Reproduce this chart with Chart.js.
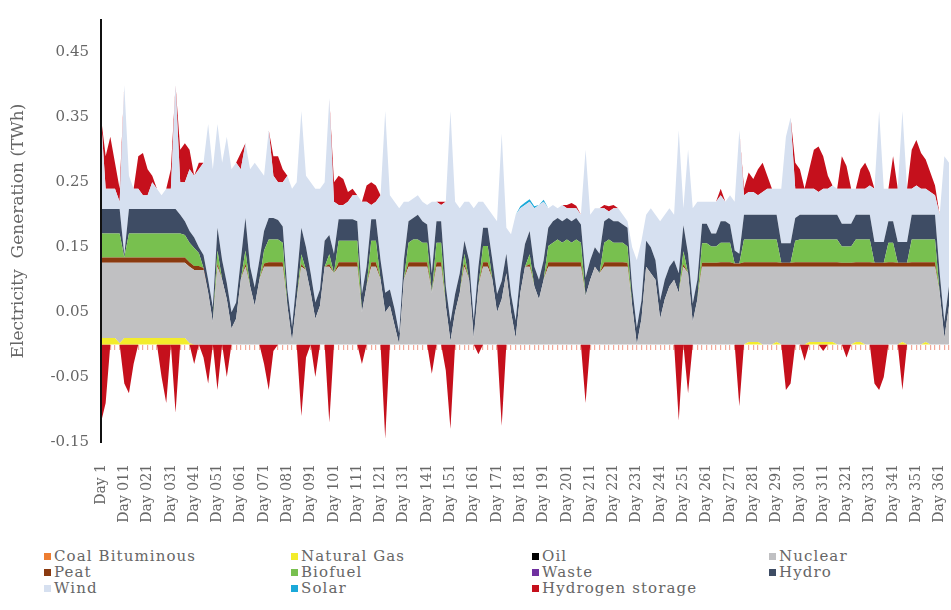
<!DOCTYPE html>
<html>
<head>
<meta charset="utf-8">
<title>Electricity generation</title>
<script src="https://cdn.jsdelivr.net/npm/chart.js@4.4.1/dist/chart.umd.min.js"></script>
<style>
  body { margin: 0; background: #fff; }
  #wrap { position: relative; width: 951px; height: 610px; }
  #chart-box { position: absolute; left: 0; top: 0; width: 951px; height: 540px; }
  #legend {
    position: absolute; left: 44px; top: 548px;
    display: grid; grid-template-columns: 247px 241px 237px auto;
    font: 15px 'DejaVu Serif'; color: #666666; line-height: 16px; letter-spacing: 1.1px;
  }
  #legend .item { white-space: nowrap; }
  #legend .swatch { display: inline-block; width: 7px; height: 7px; margin-right: 3px; vertical-align: 1px; }
</style>
</head>
<body>
<div id="wrap">
  <div id="chart-box"><canvas id="gen-chart"></canvas></div>
  <div id="legend"></div>
</div>
<script>
// one point every second day
const days = [
  1, 3, 5, 7, 9, 11, 13, 15, 17, 19, 21, 23, 25, 27, 29, 31, 33, 35, 37, 39,
  41, 43, 45, 47, 49, 51, 53, 55, 57, 59, 61, 63, 65, 67, 69, 71, 73, 75, 77, 79,
  81, 83, 85, 87, 89, 91, 93, 95, 97, 99, 101, 103, 105, 107, 109, 111, 113, 115, 117, 119,
  121, 123, 125, 127, 129, 131, 133, 135, 137, 139, 141, 143, 145, 147, 149, 151, 153, 155, 157, 159,
  161, 163, 165, 167, 169, 171, 173, 175, 177, 179, 181, 183, 185, 187, 189, 191, 193, 195, 197, 199,
  201, 203, 205, 207, 209, 211, 213, 215, 217, 219, 221, 223, 225, 227, 229, 231, 233, 235, 237, 239,
  241, 243, 245, 247, 249, 251, 253, 255, 257, 259, 261, 263, 265, 267, 269, 271, 273, 275, 277, 279,
  281, 283, 285, 287, 289, 291, 293, 295, 297, 299, 301, 303, 305, 307, 309, 311, 313, 315, 317, 319,
  321, 323, 325, 327, 329, 331, 333, 335, 337, 339, 341, 343, 345, 347, 349, 351, 353, 355, 357, 359,
  361, 363, 365
];

const tickLabels = [
  'Day 1', 'Day 011', 'Day 021', 'Day 031', 'Day 041', 'Day 051', 'Day 061', 'Day 071', 'Day 081', 'Day 091',
  'Day 101', 'Day 111', 'Day 121', 'Day 131', 'Day 141', 'Day 151', 'Day 161', 'Day 171', 'Day 181', 'Day 191',
  'Day 201', 'Day 211', 'Day 221', 'Day 231', 'Day 241', 'Day 251', 'Day 261', 'Day 271', 'Day 281', 'Day 291',
  'Day 301', 'Day 311', 'Day 321', 'Day 331', 'Day 341', 'Day 351', 'Day 361'
];

const yTicks = [-0.15, -0.05, 0.05, 0.15, 0.25, 0.35, 0.45];

// not visible in the figure
const coalValues = [];
const oilValues = [];
const wasteValues = [];

const natGasValues = [
  0.01, 0.01, 0.01, 0.01, 0.002, 0.01, 0.01, 0.01, 0.01, 0.01,
  0.01, 0.01, 0.01, 0.01, 0.01, 0.01, 0.01, 0.01, 0.01, 0.002,
  0, 0, 0, 0, 0, 0, 0, 0, 0, 0,
  0, 0, 0, 0, 0, 0, 0, 0, 0, 0,
  0, 0, 0, 0, 0, 0, 0, 0, 0, 0,
  0, 0, 0, 0, 0, 0, 0, 0, 0, 0,
  0, 0, 0, 0, 0, 0, 0, 0, 0, 0,
  0, 0, 0, 0, 0, 0, 0, 0, 0, 0,
  0, 0, 0, 0, 0, 0, 0, 0, 0, 0,
  0, 0, 0, 0, 0, 0, 0, 0, 0, 0,
  0, 0, 0, 0, 0, 0, 0, 0, 0, 0,
  0, 0, 0, 0, 0, 0, 0, 0, 0, 0,
  0, 0, 0, 0, 0, 0, 0, 0, 0, 0,
  0, 0, 0, 0, 0, 0, 0, 0, 0, 0.004,
  0.004, 0.004, 0, 0, 0, 0.004, 0, 0, 0, 0,
  0, 0, 0.004, 0.004, 0.004, 0.004, 0.004, 0.004, 0, 0,
  0, 0, 0.004, 0.004, 0, 0, 0, 0, 0, 0,
  0, 0, 0.004, 0, 0, 0, 0, 0.004, 0, 0,
  0, 0, 0
];

const nuclearValues = [
  0.116, 0.116, 0.116, 0.116, 0.124, 0.116, 0.116, 0.116, 0.116, 0.116,
  0.116, 0.116, 0.116, 0.116, 0.116, 0.116, 0.116, 0.116, 0.116, 0.118,
  0.115, 0.115, 0.115, 0.08, 0.035, 0.12, 0.1, 0.07, 0.025, 0.04,
  0.1, 0.12, 0.09, 0.06, 0.1, 0.12, 0.12, 0.12, 0.12, 0.12,
  0.06, 0.005, 0.07, 0.12, 0.115, 0.08, 0.04, 0.06, 0.12, 0.12,
  0.11, 0.12, 0.12, 0.12, 0.12, 0.12, 0.05, 0.09, 0.12, 0.12,
  0.1, 0.05, 0.06, 0.03, 0, 0.1, 0.12, 0.12, 0.12, 0.12,
  0.12, 0.08, 0.12, 0.12, 0.06, 0.005, 0.05, 0.08, 0.12, 0.1,
  0.01, 0.09, 0.12, 0.12, 0.1, 0.05, 0.07, 0.11, 0.05, 0.01,
  0.08, 0.12, 0.12, 0.09, 0.07, 0.1, 0.12, 0.12, 0.12, 0.12,
  0.12, 0.12, 0.12, 0.12, 0.075, 0.1, 0.12, 0.11, 0.12, 0.12,
  0.12, 0.12, 0.12, 0.12, 0.06, 0, 0.04, 0.12, 0.11, 0.1,
  0.04, 0.07, 0.09, 0.1, 0.08, 0.12, 0.11, 0.035, 0.07, 0.12,
  0.12, 0.12, 0.12, 0.12, 0.12, 0.12, 0.12, 0.12, 0.12, 0.116,
  0.116, 0.116, 0.12, 0.12, 0.12, 0.116, 0.12, 0.12, 0.12, 0.12,
  0.12, 0.12, 0.116, 0.116, 0.116, 0.116, 0.116, 0.116, 0.12, 0.12,
  0.12, 0.12, 0.116, 0.116, 0.12, 0.12, 0.12, 0.12, 0.12, 0.12,
  0.12, 0.12, 0.116, 0.12, 0.12, 0.12, 0.12, 0.116, 0.12, 0.12,
  0.08, 0.01, 0.06
];

const peatValues = [
  0.008, 0.008, 0.008, 0.008, 0.008, 0.008, 0.008, 0.008, 0.008, 0.008,
  0.008, 0.008, 0.008, 0.008, 0.008, 0.008, 0.008, 0.008, 0.008, 0.007,
  0.006, 0.006, 0.003, 0, 0, 0.005, 0, 0, 0, 0,
  0, 0.005, 0, 0, 0, 0.005, 0.007, 0.007, 0.007, 0.007,
  0, 0, 0, 0.004, 0, 0, 0, 0, 0, 0.004,
  0, 0.007, 0.007, 0.007, 0.007, 0.007, 0, 0, 0.007, 0.007,
  0, 0, 0, 0, 0, 0, 0.007, 0.007, 0.007, 0.007,
  0.007, 0, 0.007, 0.007, 0, 0, 0, 0, 0.005, 0,
  0, 0, 0.007, 0.007, 0, 0, 0, 0, 0, 0,
  0, 0, 0.004, 0, 0, 0, 0.007, 0.007, 0.007, 0.007,
  0.007, 0.007, 0.007, 0.007, 0, 0, 0, 0, 0.007, 0.007,
  0.007, 0.007, 0.007, 0.006, 0, 0, 0, 0, 0, 0,
  0, 0, 0, 0, 0, 0.004, 0, 0, 0, 0.006,
  0.006, 0.006, 0.006, 0.007, 0.007, 0.007, 0.005, 0.005, 0.007, 0.007,
  0.007, 0.007, 0.007, 0.007, 0.007, 0.007, 0.006, 0.006, 0.006, 0.007,
  0.007, 0.007, 0.007, 0.007, 0.007, 0.007, 0.007, 0.007, 0.007, 0.006,
  0.006, 0.006, 0.007, 0.007, 0.007, 0.007, 0.006, 0.006, 0.006, 0.007,
  0.007, 0.006, 0.006, 0.006, 0.007, 0.007, 0.007, 0.007, 0.007, 0.007,
  0, 0, 0
];

const biofuelValues = [
  0.037, 0.037, 0.037, 0.037, 0.037, 0, 0.037, 0.037, 0.037, 0.037,
  0.037, 0.037, 0.037, 0.037, 0.037, 0.037, 0.037, 0.037, 0.035, 0.03,
  0.028, 0.02, 0, 0, 0, 0.02, 0, 0, 0, 0,
  0, 0.02, 0, 0, 0, 0.02, 0.035, 0.035, 0.035, 0.03,
  0, 0, 0, 0.015, 0, 0, 0, 0, 0, 0.015,
  0, 0.033, 0.033, 0.033, 0.033, 0.033, 0, 0, 0.033, 0.033,
  0, 0, 0, 0, 0, 0, 0.03, 0.035, 0.035, 0.03,
  0.03, 0, 0.03, 0.03, 0, 0, 0, 0, 0.015, 0,
  0, 0, 0.025, 0.025, 0, 0, 0, 0, 0, 0,
  0, 0, 0.015, 0, 0, 0, 0.025, 0.03, 0.035, 0.03,
  0.035, 0.03, 0.035, 0.03, 0, 0, 0, 0, 0.03, 0.035,
  0.03, 0.03, 0.03, 0.025, 0, 0, 0, 0, 0, 0,
  0, 0, 0, 0, 0, 0.02, 0, 0, 0, 0.03,
  0.03, 0.025, 0.025, 0.03, 0.03, 0.03, 0, 0, 0.035, 0.035,
  0.035, 0.035, 0.035, 0.035, 0.035, 0.035, 0, 0, 0, 0.033,
  0.035, 0.035, 0.035, 0.035, 0.035, 0.035, 0.035, 0.035, 0.035, 0.025,
  0.025, 0.025, 0.035, 0.035, 0.035, 0.035, 0, 0, 0, 0.03,
  0.03, 0, 0, 0, 0.035, 0.035, 0.035, 0.035, 0.035, 0.035,
  0, 0, 0
];

const hydroValues = [
  0.038, 0.038, 0.038, 0.038, 0.038, 0.004, 0.038, 0.038, 0.038, 0.038,
  0.038, 0.038, 0.038, 0.038, 0.038, 0.038, 0.038, 0.029, 0.021, 0.018,
  0.016, 0.009, 0.02, 0.02, 0.022, 0.035, 0.03, 0.025, 0.025, 0.025,
  0.03, 0.05, 0.03, 0.028, 0.03, 0.03, 0.033, 0.033, 0.03, 0.025,
  0.025, 0.022, 0.03, 0.041, 0.035, 0.03, 0.025, 0.025, 0.04, 0.03,
  0.03, 0.033, 0.033, 0.033, 0.033, 0.03, 0.028, 0.03, 0.033, 0.033,
  0.03, 0.03, 0.025, 0.025, 0.017, 0.03, 0.033, 0.033, 0.038, 0.033,
  0.028, 0.03, 0.033, 0.033, 0.03, 0.03, 0.028, 0.03, 0.02, 0.03,
  0.027, 0.03, 0.028, 0.028, 0.03, 0.028, 0.028, 0.03, 0.027, 0.027,
  0.03, 0.035, 0.036, 0.03, 0.03, 0.03, 0.028, 0.033, 0.033, 0.033,
  0.033, 0.033, 0.033, 0.028, 0.028, 0.03, 0.03, 0.03, 0.033, 0.033,
  0.033, 0.033, 0.028, 0.029, 0.028, 0.026, 0.028, 0.04, 0.04, 0.03,
  0.028, 0.03, 0.03, 0.03, 0.03, 0.04, 0.03, 0.028, 0.03, 0.03,
  0.03, 0.02, 0.02, 0.033, 0.033, 0.028, 0.02, 0.015, 0.038, 0.038,
  0.038, 0.038, 0.038, 0.038, 0.038, 0.038, 0.03, 0.03, 0.03, 0.035,
  0.038, 0.038, 0.038, 0.038, 0.038, 0.038, 0.038, 0.038, 0.038, 0.035,
  0.035, 0.035, 0.038, 0.038, 0.038, 0.038, 0.032, 0.032, 0.032, 0.033,
  0.033, 0.032, 0.032, 0.032, 0.038, 0.038, 0.038, 0.038, 0.038, 0.038,
  0.03, 0.025, 0.03
];

const windValues = [
  0.141, 0.031, 0.031, 0.031, 0.011, 0.262, 0.051, 0.031, 0.031, 0.021,
  0.021, 0.041, 0.031, 0.021, 0.031, 0.031, 0.191, 0.05, 0.06, 0.095,
  0.095, 0.12, 0.142, 0.24, 0.213, 0.16, 0.15, 0.225, 0.22, 0.215,
  0.14, 0.115, 0.15, 0.192, 0.14, 0.085, 0.135, 0.065, 0.058, 0.068,
  0.175, 0.213, 0.15, 0.18, 0.11, 0.14, 0.175, 0.155, 0.09, 0.211,
  0.08, 0.022, 0.022, 0.027, 0.037, 0.04, 0.142, 0.1, 0.022, 0.027,
  0.1, 0.28, 0.145, 0.165, 0.193, 0.09, 0.03, 0.03, 0.03, 0.03,
  0.03, 0.11, 0.03, 0.025, 0.13, 0.325, 0.142, 0.1, 0.06, 0.09,
  0.173, 0.1, 0.04, 0.03, 0.07, 0.112, 0.227, 0.04, 0.093, 0.163,
  0.1, 0.06, 0.045, 0.09, 0.115, 0.09, 0.03, 0.025, 0.015, 0.025,
  0.015, 0.02, 0.015, 0.015, 0.197, 0.07, 0.06, 0.07, 0.02, 0.01,
  0.02, 0.02, 0.015, 0.01, 0.062, 0.104, 0.092, 0.04, 0.06, 0.07,
  0.122, 0.1, 0.09, 0.07, 0.22, 0.026, 0.16, 0.147, 0.12, 0.034,
  0.034, 0.049, 0.049, 0.04, 0.03, 0.045, 0.075, 0.19, 0.03, 0.035,
  0.035, 0.03, 0.035, 0.04, 0.04, 0.04, 0.084, 0.164, 0.194, 0.045,
  0.04, 0.04, 0.04, 0.04, 0.035, 0.04, 0.04, 0.045, 0.04, 0.054,
  0.054, 0.054, 0.04, 0.04, 0.04, 0.045, 0.082, 0.202, 0.082, 0.05,
  0.05, 0.082, 0.202, 0.082, 0.04, 0.045, 0.04, 0.04, 0.035, 0.03,
  0.09, 0.255, 0.19
];

const solarValues = [
  0, 0, 0, 0, 0, 0, 0, 0, 0, 0,
  0, 0, 0, 0, 0, 0, 0, 0, 0, 0,
  0, 0, 0, 0, 0, 0, 0, 0, 0, 0,
  0, 0, 0, 0, 0, 0, 0, 0, 0, 0,
  0, 0, 0, 0, 0, 0, 0, 0, 0, 0,
  0, 0, 0, 0, 0, 0, 0, 0, 0, 0,
  0, 0, 0, 0, 0, 0, 0, 0, 0, 0,
  0, 0, 0, 0, 0, 0, 0, 0, 0, 0,
  0, 0, 0, 0, 0, 0, 0, 0, 0, 0,
  0.003, 0.004, 0.004, 0.003, 0, 0.003, 0, 0, 0, 0,
  0, 0, 0, 0, 0, 0, 0, 0, 0, 0,
  0, 0, 0, 0, 0, 0, 0, 0, 0, 0,
  0, 0, 0, 0, 0, 0, 0, 0, 0, 0,
  0, 0, 0, 0, 0, 0, 0, 0, 0, 0,
  0, 0, 0, 0, 0, 0, 0, 0, 0, 0,
  0, 0, 0, 0, 0, 0, 0, 0, 0, 0,
  0, 0, 0, 0, 0, 0, 0, 0, 0, 0,
  0, 0, 0, 0, 0, 0, 0, 0, 0, 0,
  0, 0, 0
];

// hydrogen storage: discharge (above the stack) and charge (below zero)
const h2DischargeValues = [
  0, 0.05, 0.08, 0.04, 0.02, 0, 0, 0, 0.05, 0.065,
  0.04, 0.01, 0, 0, 0, 0.03, 0, 0.05, 0.06, 0.03,
  0, 0.01, 0, 0, 0, 0, 0, 0, 0, 0,
  0.025, 0, 0, 0, 0, 0, 0, 0.03, 0.04, 0.02,
  0, 0, 0, 0, 0, 0, 0, 0, 0, 0,
  0.03, 0.045, 0.04, 0.015, 0.01, 0, 0, 0.025, 0.035, 0.025,
  0, 0, 0, 0, 0, 0, 0, 0, 0, 0,
  0, 0, 0, 0.005, 0, 0, 0, 0, 0, 0,
  0, 0, 0, 0, 0, 0, 0, 0, 0, 0,
  0, 0, 0, 0, 0, 0, 0, 0, 0, 0,
  0.005, 0.008, 0.004, 0, 0, 0, 0, 0, 0.005, 0.008,
  0.005, 0, 0, 0, 0, 0, 0, 0, 0, 0,
  0, 0, 0, 0, 0, 0, 0, 0, 0, 0,
  0, 0, 0, 0.01, 0, 0, 0, 0, 0.01, 0.03,
  0.02, 0.04, 0.045, 0.02, 0, 0, 0, 0, 0, 0.04,
  0.03, 0, 0.03, 0.06, 0.07, 0.05, 0.02, 0, 0, 0.05,
  0.035, 0, 0, 0.03, 0.04, 0.02, 0, 0, 0, 0,
  0.05, 0, 0, 0, 0.06, 0.07, 0.055, 0.045, 0.03, 0.015,
  0, 0, 0
];

const h2ChargeValues = [
  -0.12, -0.09, 0, 0, 0, -0.06, -0.075, -0.03, 0, 0,
  0, 0, 0, -0.05, -0.09, 0, -0.105, 0, 0, 0,
  -0.03, 0, -0.02, -0.06, 0, -0.07, 0, -0.05, 0, 0,
  0, 0, 0, 0, 0, -0.03, -0.07, -0.01, 0, 0,
  0, 0, 0, -0.11, -0.02, 0, -0.05, 0, 0, -0.12,
  0, 0, 0, 0, 0, 0, -0.03, 0, 0, 0,
  0, -0.145, 0, 0, 0, 0, 0, 0, 0, 0,
  0, -0.045, 0, 0, -0.04, -0.13, 0, 0, 0, 0,
  0, -0.015, 0, 0, 0, 0, -0.125, 0, 0, 0,
  0, 0, 0, 0, 0, 0, 0, 0, 0, 0,
  0, 0, 0, 0, -0.09, 0, 0, 0, 0, 0,
  0, 0, 0, 0, 0, 0, 0, 0, 0, 0,
  0, 0, 0, 0, -0.117, 0, -0.075, 0, 0, 0,
  0, 0, 0, 0, 0, 0, 0, -0.095, 0, 0,
  0, 0, 0, 0, 0, 0, 0, -0.07, -0.06, 0,
  0, -0.025, 0, 0, 0, -0.01, 0, 0, 0, 0,
  -0.02, 0, 0, 0, 0, 0, -0.06, -0.07, -0.05, 0,
  0, 0, -0.07, 0, 0, 0, 0, 0, 0, 0,
  0, 0, 0
];

const textColor = '#666666';
const serif = 'DejaVu Serif';

function area(label, data, color, fill, extra) {
  return Object.assign({
    label: label,
    data: data,
    fill: fill,
    backgroundColor: color,
    borderColor: color,
    borderWidth: 0,
    pointRadius: 0,
    pointHoverRadius: 0,
    tension: 0,
    stack: 'gen',
    legendColor: color
  }, extra || {});
}

// fill targets are absolute dataset indexes (the empty series are skipped)
const datasets = [
  area('Coal Bituminous', coalValues, '#ed7d31', false),   // 0
  area('Natural Gas', natGasValues, '#f3ec2b', 'origin'),  // 1
  area('Oil', oilValues, '#000000', false),                // 2
  area('Nuclear', nuclearValues, '#c0c0c2', 1),            // 3
  area('Peat', peatValues, '#8a3a0f', 3),                  // 4
  area('Biofuel', biofuelValues, '#78c04f', 4),            // 5
  area('Waste', wasteValues, '#7030a0', false),            // 6
  area('Hydro', hydroValues, '#3e4c64', 5),                // 7
  area('Wind', windValues, '#d6e0f0', 7),                  // 8
  area('Solar', solarValues, '#1ba9d9', 8),                // 9
  area('Hydrogen storage', h2DischargeValues, '#c5101c', 9), // 10
  area('Hydrogen storage', h2ChargeValues, '#c5101c', 'origin', {stack: 'charge', skipLegend: true}) // 11
];

const chart = new Chart(document.getElementById('gen-chart'), {
  type: 'line',
  data: {
    labels: days.map(d => 'Day ' + d),
    datasets: datasets
  },
  options: {
    responsive: true,
    maintainAspectRatio: false,
    animation: false,
    layout: {
      padding: {top: 20, right: 2, bottom: 0, left: 0}
    },
    plugins: {
      legend: {display: false},
      tooltip: {enabled: false}
    },
    scales: {
      x: {
        type: 'category',
        offset: false,
        grid: {display: false},
        border: {display: false},
        ticks: {
          autoSkip: false,
          minRotation: 90,
          maxRotation: 90,
          padding: 14,
          color: textColor,
          font: {family: serif, size: 14},
          callback(value, index) {
            return index % 5 === 0 ? tickLabels[index / 5] : '';
          }
        },
        afterFit(scale) {
          scale.height = 98;
          scale.paddingLeft = 0;
          scale.paddingRight = 0;
        }
      },
      // small tick comb along the zero line
      xComb: {
        type: 'category',
        axis: 'x',
        position: {y: 0},
        offset: false,
        grid: {drawOnChartArea: false, drawTicks: true, tickLength: 5, color: 'rgba(238, 140, 120, 0.75)', lineWidth: 1.2},
        border: {display: false},
        ticks: {display: false}
      },
      y: {
        stacked: true,
        min: -0.15,
        max: 0.5,
        grid: {display: false},
        border: {display: true, color: '#111111', width: 2, z: 2},
        afterBuildTicks(scale) {
          scale.ticks = yTicks.map(v => ({value: v}));
        },
        ticks: {
          padding: 4,
          color: textColor,
          font: {family: serif, size: 15},
          callback(value) {
            return Number(value).toFixed(2);
          }
        },
        title: {
          display: true,
          text: 'Electricity  Generation (TWh)',
          color: textColor,
          font: {family: serif, size: 17},
          padding: {top: 8, bottom: 0}
        },
        afterFit(scale) {
          scale.width = 101;
          scale.paddingTop = 0;
          scale.paddingBottom = 0;
        }
      }
    }
  }
});

// html legend in four columns, like the source figure
const legendBox = document.getElementById('legend');
chart.data.datasets.filter(ds => !ds.skipLegend).forEach(ds => {
  const item = document.createElement('div');
  item.className = 'item';
  const swatch = document.createElement('span');
  swatch.className = 'swatch';
  swatch.style.background = ds.legendColor;
  item.appendChild(swatch);
  item.appendChild(document.createTextNode(ds.label));
  legendBox.appendChild(item);
});
</script>
</body>
</html>
